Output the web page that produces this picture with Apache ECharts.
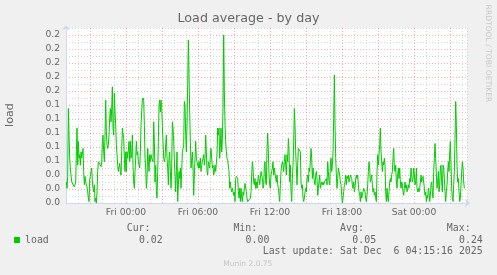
<!DOCTYPE html>
<html>
<head>
<meta charset="utf-8">
<script src="https://cdn.jsdelivr.net/npm/echarts@6/dist/echarts.min.js"></script>
<style>
html,body{margin:0;padding:0;background:#f0f0f0;}
#chart{width:497px;height:275px;}
</style>
</head>
<body>
<div id="chart"></div>
<script>
// ---- data ----
// load average samples, one every 200 s, starting Thu 19:02 (hours relative to Fri 00:00)
const startHour = -4.97;
const stepHours = 1 / 18;
const loadValues = [
  // Thu 19:00 - Fri 00:30
  .030,.021,.038,.135,.097,.064,.050,.040,.030,.030,
  .030,.028,.023,.023,.030,.073,.107,.054,.088,.064,
  .069,.054,.073,.064,.064,.078,.045,.026,.038,.030,
  .026,.023,.016,.007,.002,.033,.038,.045,.050,.030,
  .021,.016,.026,.002,.007,.000,.016,.045,.059,.059,
  .059,.057,.052,.059,.088,.097,.073,.059,.097,.147,
  .102,.083,.078,.083,.097,.121,.135,.116,.135,.166,
  .107,.097,.157,.130,.111,.083,.069,.054,.045,.045,
  .057,.045,.040,.073,.107,.109,.092,.064,.045,.073,
  .045,.073,.064,.064,.088,
  // Fri 00:20 - Fri 05:50
  .059,.088,.064,.069,.097,.054,.030,.021,.045,.064,
  .088,.069,.073,.059,.054,.050,.073,.111,.130,.147,
  .150,.147,.111,.064,.050,.021,.035,.078,.059,.045,
  .069,.059,.069,.064,.064,.059,.116,.088,.030,.054,
  .016,.007,.045,.088,.140,.147,.130,.147,.138,.111,
  .088,.064,.059,.064,.083,.097,.064,.050,.026,.064,
  .073,.045,.021,.050,.116,.107,.088,.059,.040,.016,
  .045,.073,.002,.026,.045,.035,.050,.021,.045,.073,
  .071,.083,.145,.140,.097,.073,.111,.169,.233,.183,
  .130,.088,.050,.050,.073,.050,.011,.040,.064,
  // Fri 05:50 - Fri 11:20
  .088,.064,.059,.059,.050,.059,.050,.064,.045,.054,
  .059,.064,.069,.054,.064,.097,.073,.045,.040,.059,
  .054,.050,.069,.078,.078,.050,.054,.040,.045,.054,
  .045,.045,.069,.107,.097,.107,.064,.083,.107,.073,
  .092,.135,.240,.159,.111,.088,.073,.064,.061,.059,
  .045,.021,.030,.021,.016,.021,.021,.011,.016,.002,
  .035,.038,.040,.035,.016,.007,.021,.002,.021,.007,
  .002,.016,.011,.021,.028,.030,.016,.007,.002,.000,
  .002,.000,.007,.016,.040,.059,.050,.030,.026,.035,
  .021,.030,.021,.030,.040,.035,.026,.035,.045,
  // Fri 11:20 - Fri 16:50
  .040,.035,.021,.026,.054,.059,.030,.026,.078,.100,
  .073,.040,.026,.021,.040,.045,.050,.059,.040,.050,
  .042,.035,.030,.040,.026,.021,.011,.002,.026,.045,
  .054,.059,.054,.045,.059,.069,.054,.040,.069,.059,
  .092,.078,.030,.054,.016,.002,.035,.054,.088,.135,
  .111,.073,.050,.026,.054,.078,.078,.078,.073,.030,
  .021,.026,.007,.002,.007,.016,.021,.016,.035,.040,
  .030,.050,.045,.059,.078,.064,.035,.050,.040,.030,
  .026,.040,.045,.035,.011,.021,.030,.040,.021,.026,
  .030,.026,.030,.026,.030,.030,.030,.035,.026,
  // Fri 16:50 - Fri 22:20
  .059,.045,.030,.026,.054,.064,.045,.054,.073,.121,
  .183,.111,.064,.040,.021,.035,.050,.045,.040,.030,
  .026,.011,.000,.007,.016,.026,.030,.040,.026,.038,
  .035,.040,.030,.035,.040,.040,.035,.026,.021,.030,
  .016,.021,.035,.040,.035,.040,.026,.016,.011,.002,
  .016,.007,.011,.016,.021,.021,.016,.007,.002,.011,
  .026,.045,.059,.050,.030,.035,.040,.026,.016,.021,
  .011,.016,.007,.002,.045,.069,.054,.069,.083,.107,
  .073,.059,.045,.059,.054,.064,.054,.016,.002,.021,
  .007,.002,.016,.030,.035,.030,.040,.045,.064,
  // Fri 22:20 - Sat 04:15
  .078,.050,.045,.054,.030,.021,.040,.050,.035,.050,
  .030,.021,.030,.026,.016,.011,.021,.030,.021,.026,
  .016,.021,.026,.021,.035,.030,.050,.040,.030,.035,
  .050,.040,.026,.030,.050,.021,.016,.021,.016,.021,
  .030,.040,.030,.035,.038,.030,.021,.011,.016,.002,
  .011,.007,.021,.016,.002,.011,.026,.030,.016,.007,
  .045,.064,.085,.064,.040,.021,.030,.045,.016,.026,
  .050,.054,.030,.016,.054,.050,.035,.016,.002,.016,
  .026,.045,.059,.045,.073,.088,.054,.021,.007,.002,
  .026,.045,.092,.145,.111,.054,.030,.035,.016,.002,
  .007,.026,.045,.059,.050,.030,.021,.021
];
const xTickHours = [0, 6, 12, 18, 24];
const xTickLabels = ['Fri 00:00', 'Fri 06:00', 'Fri 12:00', 'Fri 18:00', 'Sat 00:00'];
const yTickValues = [0, 0.02, 0.04, 0.06, 0.08, 0.10, 0.12, 0.14, 0.16, 0.18, 0.20, 0.22, 0.24];
const yTickLabels = ['0.0','0.0','0.0','0.1','0.1','0.1','0.1','0.1','0.2','0.2','0.2','0.2','0.2'];
const seriesName = 'load';
const statLabels = ['Cur:', 'Min:', 'Avg:', 'Max:'];
const statValues = ['0.02', '0.00', '0.05', '0.24'];
const lastUpdate = 'Last update: Sat Dec  6 04:15:16 2025';
const titleText = 'Load average - by day';
const yAxisTitle = 'load';
const sideText = 'RRDTOOL / TOBI OETIKER';
const versionText = 'Munin 2.0.75';

// ---- chart ----
const seriesData = loadValues.map((v, i) => [startHour + i * stepHours, v]);
const FONT = '"DejaVu Sans", sans-serif';
const MONO = '"DejaVu Sans Mono", monospace';
const TXT = '#666666';
const MGRID = 'rgba(255,0,0,0.33)';
const GRID = 'rgba(186,186,186,0.55)';
const AXIS = '#CFD6F8';

const chart = echarts.init(document.getElementById('chart'), null, {renderer: 'canvas'});

const statGraphics = [];
statLabels.forEach((s, i) => {
  statGraphics.push({type: 'text', x: 126.7 + i * 106.7, y: 228.5,
    style: {text: s, font: '9.9px ' + MONO, fill: TXT, textAlign: 'left', textVerticalAlign: 'middle'}});
  statGraphics.push({type: 'text', x: 162.7 + i * 106.7, y: 240,
    style: {text: statValues[i], font: '9.9px ' + MONO, fill: TXT, textAlign: 'right', textVerticalAlign: 'middle'}});
});

chart.setOption({
  animation: false,
  backgroundColor: '#f0f0f0',
  title: {
    text: titleText, left: 'center', top: 12, padding: 0,
    textStyle: {fontFamily: FONT, fontSize: 12.7, fontWeight: 'normal', color: TXT}
  },
  legend: {
    data: [seriesName], left: 14, top: 234, padding: 0, icon: 'rect',
    itemWidth: 6, itemHeight: 6,
    textStyle: {fontFamily: MONO, fontSize: 9.9, color: TXT, lineHeight: 12}
  },
  grid: {left: 66, top: 28, width: 401, height: 175, show: true, backgroundColor: '#ffffff', borderWidth: 0},
  xAxis: {
    type: 'value', min: -5, max: 28.4167, interval: 1,
    axisLine: {show: true, onZero: false, lineStyle: {color: AXIS, width: 1}, symbol: ['none', 'arrow'], symbolSize: [7, 5], symbolOffset: [0, 3]},
    axisTick: {show: false},
    axisLabel: {
      margin: 5, fontFamily: FONT, fontSize: 9.2, color: TXT, showMinLabel: true, showMaxLabel: false,
      formatter: v => { const k = xTickHours.indexOf(Math.round(v)); return (k >= 0 && Math.abs(v - Math.round(v)) < 1e-6) ? xTickLabels[k] : ''; }
    },
    splitLine: {show: true, lineStyle: {color: [GRID, GRID, MGRID], width: 1, type: [1, 2]}}
  },
  yAxis: {
    type: 'value', min: 0, max: 0.25, interval: 0.01,
    axisLine: {show: true, onZero: false, lineStyle: {color: AXIS, width: 1}, symbol: ['none', 'arrow'], symbolSize: [6, 5], symbolOffset: [0, 3]},
    axisTick: {show: false},
    axisLabel: {
      margin: 6, fontFamily: FONT, fontSize: 9.2, color: TXT,
      formatter: v => { const k = Math.round(v * 100); const idx = yTickValues.findIndex(t => Math.round(t * 100) === k); return idx >= 0 ? yTickLabels[idx] : ''; }
    },
    splitLine: {show: true, lineStyle: {color: [MGRID, GRID], width: 1, type: [1, 2]}}
  },
  series: [{
    name: seriesName, type: 'line', data: seriesData, showSymbol: false, symbol: 'none',
    lineStyle: {color: '#00cc00', width: 1}, itemStyle: {color: '#00cc00'}, z: 5
  }],
  graphic: [
    {type: 'text', x: 10, y: 115, rotation: Math.PI / 2,
      style: {text: yAxisTitle, font: '11.2px ' + FONT, fill: TXT, textAlign: 'center', textVerticalAlign: 'middle'}},
    {type: 'text', x: 487.5, y: 53.5, rotation: -Math.PI / 2,
      style: {text: sideText, font: '7.6px ' + FONT, fill: '#c8c8c8', textAlign: 'center', textVerticalAlign: 'middle'}},
    {type: 'text', x: 482.7, y: 251.5,
      style: {text: lastUpdate, font: '9.9px ' + MONO, fill: TXT, textAlign: 'right', textVerticalAlign: 'middle'}},
    {type: 'text', x: 247.8, y: 264.5,
      style: {text: versionText, font: '7.5px ' + FONT, fill: '#c4c4c4', textAlign: 'center', textVerticalAlign: 'middle'}}
  ].concat(statGraphics)
});
</script>
</body>
</html>
